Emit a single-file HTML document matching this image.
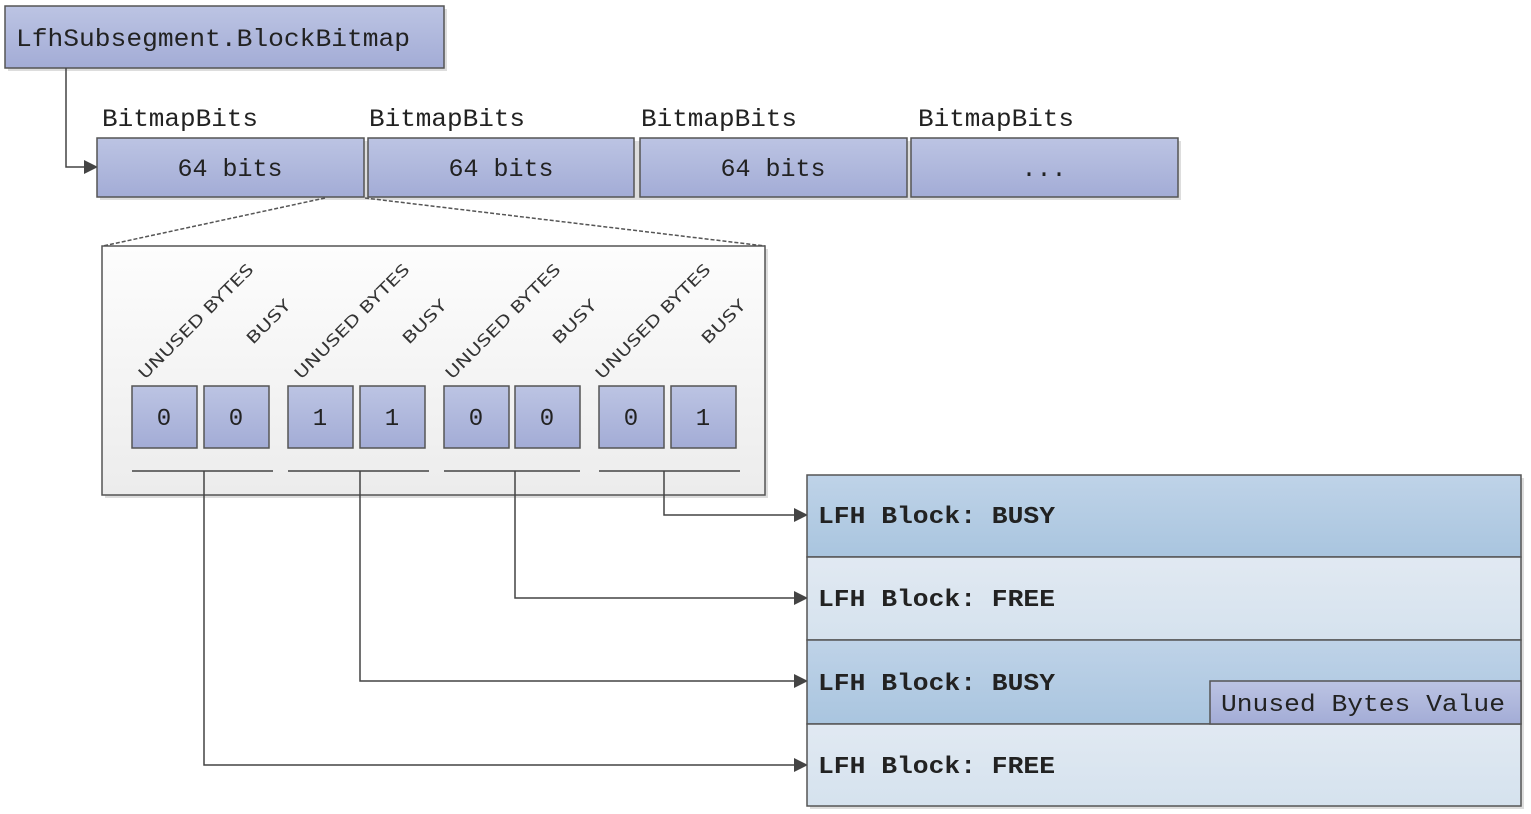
<!DOCTYPE html>
<html><head><meta charset="utf-8"><style>html,body{margin:0;padding:0;background:#fff}svg{display:block}</style></head>
<body>
<svg width="1531" height="814" viewBox="0 0 1531 814" xmlns="http://www.w3.org/2000/svg">
<defs>
<linearGradient id="bl" x1="0" y1="0" x2="0" y2="1"><stop offset="0" stop-color="#bcc4e3"/><stop offset="1" stop-color="#a3acd6"/></linearGradient>
<linearGradient id="busy" x1="0" y1="0" x2="0" y2="1"><stop offset="0" stop-color="#bfd3e8"/><stop offset="1" stop-color="#a9c5df"/></linearGradient>
<linearGradient id="free" x1="0" y1="0" x2="0" y2="1"><stop offset="0" stop-color="#e1e9f2"/><stop offset="1" stop-color="#d5e2ee"/></linearGradient>
<linearGradient id="pan" x1="0" y1="0" x2="0" y2="1"><stop offset="0" stop-color="#fdfdfd"/><stop offset="1" stop-color="#ececec"/></linearGradient>
<marker id="ar" markerWidth="14" markerHeight="14" refX="13" refY="7" orient="auto" markerUnits="userSpaceOnUse"><path d="M0,0 L14,7 L0,14 Z" fill="#444"/></marker>
</defs>
<g fill="#ddd">
<rect x="8" y="9" width="439" height="62"/>
<rect x="100" y="141" width="1081" height="59"/>
<rect x="105" y="249" width="663" height="249"/>
<rect x="810" y="478" width="714" height="331"/>
</g>
<rect x="5" y="6" width="439" height="62" fill="url(#bl)" stroke="#555" stroke-width="1.5"/>
<text x="16" y="46" font-family="Liberation Mono, monospace" font-size="25" fill="#222" textLength="394" lengthAdjust="spacingAndGlyphs">LfhSubsegment.BlockBitmap</text>
<path d="M66,68 V167 H97" fill="none" stroke="#444" stroke-width="1.5" marker-end="url(#ar)"/>
<g font-family="Liberation Mono, monospace" font-size="25" fill="#222">
<text x="102" y="126" textLength="156" lengthAdjust="spacingAndGlyphs">BitmapBits</text>
<text x="369" y="126" textLength="156" lengthAdjust="spacingAndGlyphs">BitmapBits</text>
<text x="641" y="126" textLength="156" lengthAdjust="spacingAndGlyphs">BitmapBits</text>
<text x="918" y="126" textLength="156" lengthAdjust="spacingAndGlyphs">BitmapBits</text>
</g>
<g fill="url(#bl)" stroke="#555" stroke-width="1.5">
<rect x="97" y="138" width="267" height="59"/>
<rect x="368" y="138" width="266" height="59"/>
<rect x="640" y="138" width="267" height="59"/>
<rect x="911" y="138" width="267" height="59"/>
</g>
<g font-family="Liberation Mono, monospace" font-size="25" fill="#222" text-anchor="middle">
<text x="230" y="176">64 bits</text>
<text x="501" y="176">64 bits</text>
<text x="773" y="176">64 bits</text>
<text x="1044" y="176">...</text>
</g>
<path d="M325,198 L103,246 M365,198 L765,246" stroke="#555" stroke-width="1.5" stroke-dasharray="4,2" fill="none"/>
<rect x="102" y="246" width="663" height="249" fill="url(#pan)" stroke="#555" stroke-width="1.5"/>
<g font-family="DejaVu Sans, sans-serif" font-size="16" fill="#333">
<text transform="translate(145,380) rotate(-45)" textLength="155" lengthAdjust="spacingAndGlyphs">UNUSED BYTES</text>
<text transform="translate(253,345) rotate(-45)" textLength="55" lengthAdjust="spacingAndGlyphs">BUSY</text>
<text transform="translate(301,380) rotate(-45)" textLength="155" lengthAdjust="spacingAndGlyphs">UNUSED BYTES</text>
<text transform="translate(409,345) rotate(-45)" textLength="55" lengthAdjust="spacingAndGlyphs">BUSY</text>
<text transform="translate(452,380) rotate(-45)" textLength="155" lengthAdjust="spacingAndGlyphs">UNUSED BYTES</text>
<text transform="translate(559,345) rotate(-45)" textLength="55" lengthAdjust="spacingAndGlyphs">BUSY</text>
<text transform="translate(602,380) rotate(-45)" textLength="155" lengthAdjust="spacingAndGlyphs">UNUSED BYTES</text>
<text transform="translate(708,345) rotate(-45)" textLength="55" lengthAdjust="spacingAndGlyphs">BUSY</text>
</g>
<g fill="url(#bl)" stroke="#555" stroke-width="1.5">
<rect x="132" y="386" width="65" height="62"/><rect x="204" y="386" width="65" height="62"/>
<rect x="288" y="386" width="65" height="62"/><rect x="360" y="386" width="65" height="62"/>
<rect x="444" y="386" width="65" height="62"/><rect x="515" y="386" width="65" height="62"/>
<rect x="599" y="386" width="65" height="62"/><rect x="671" y="386" width="65" height="62"/>
</g>
<g font-family="Liberation Mono, monospace" font-size="24" fill="#222" text-anchor="middle">
<text x="164" y="425">0</text><text x="236" y="425">0</text>
<text x="320" y="425">1</text><text x="392" y="425">1</text>
<text x="476" y="425">0</text><text x="547" y="425">0</text>
<text x="631" y="425">0</text><text x="703" y="425">1</text>
</g>
<path d="M132,471 H273 M288,471 H429 M444,471 H580 M599,471 H740" stroke="#444" stroke-width="1.5"/>
<g fill="none" stroke="#444" stroke-width="1.5">
<path d="M664,471 V515 H807" marker-end="url(#ar)"/>
<path d="M515,471 V598 H807" marker-end="url(#ar)"/>
<path d="M360,471 V681 H807" marker-end="url(#ar)"/>
<path d="M204,471 V765 H807" marker-end="url(#ar)"/>
</g>
<g stroke="#555" stroke-width="1.5">
<rect x="807" y="475" width="714" height="82" fill="url(#busy)"/>
<rect x="807" y="557" width="714" height="83" fill="url(#free)"/>
<rect x="807" y="640" width="714" height="84" fill="url(#busy)"/>
<rect x="807" y="724" width="714" height="82" fill="url(#free)"/>
<rect x="1210" y="681" width="311" height="43" fill="url(#bl)"/>
</g>
<g font-family="Liberation Mono, monospace" font-size="24" font-weight="bold" fill="#222">
<text x="818" y="523" textLength="237" lengthAdjust="spacingAndGlyphs">LFH Block: BUSY</text>
<text x="818" y="606" textLength="237" lengthAdjust="spacingAndGlyphs">LFH Block: FREE</text>
<text x="818" y="690" textLength="237" lengthAdjust="spacingAndGlyphs">LFH Block: BUSY</text>
<text x="818" y="773" textLength="237" lengthAdjust="spacingAndGlyphs">LFH Block: FREE</text>
</g>
<text x="1221" y="711" font-family="Liberation Mono, monospace" font-size="24" fill="#222" textLength="284" lengthAdjust="spacingAndGlyphs">Unused Bytes Value</text>
</svg>
</body></html>
